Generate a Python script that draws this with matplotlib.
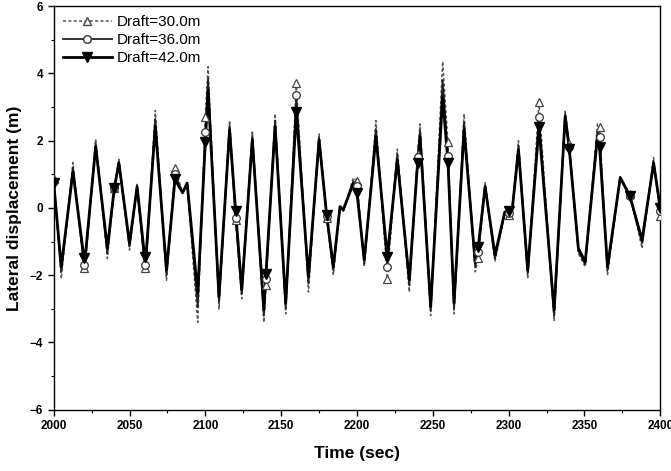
import numpy as np
import matplotlib.pyplot as plt
from matplotlib.lines import Line2D

plt.rcParams['font.family'] = ['Liberation Sans', 'DejaVu Sans']

# times of peaks / troughs
t_ext = [2005, 2012.7, 2020.5, 2027.7, 2035.4, 2043, 2050, 2055, 2060.7, 2067, 2074.4,
         2085, 2088, 2095, 2101.8, 2109, 2116, 2124, 2131, 2138.6, 2146, 2153,
         2168, 2175, 2184.4, 2188.8, 2191, 2197.6, 2204.8, 2212.5, 2226.6, 2234.5,
         2241.6, 2248.6, 2256.5, 2264, 2270.6, 2278, 2284.5, 2291, 2297.5, 2302.5,
         2306.5, 2312.6, 2330, 2337.3, 2346, 2350.5, 2358.6, 2365.2, 2373.6, 2388, 2395.6]
y30_ext = [-2.1, 1.35, -1.9, 2.05, -1.5, 1.45, -1.25, 0.7, -1.9, 2.9, -2.15,
           0.45, 0.75, -3.4, 4.2, -3.0, 2.6, -2.7, 2.3, -3.4, 2.8, -3.15,
           -2.5, 2.2, -2.0, 0.0, -0.1, 0.9, -1.75, 2.6, 1.75, -2.5,
           2.5, -3.2, 4.35, -3.15, 2.8, -1.9, 0.75, -1.6, -0.15, 0.0,
           2.0, -2.1, -3.35, 2.87, -1.35, -1.75, 2.5, -2.0, 0.95, -1.2, 1.5]
y36_ext = [-1.9, 1.2, -1.75, 1.92, -1.35, 1.38, -1.15, 0.66, -1.7, 2.65, -2.0,
           0.45, 0.74, -2.95, 3.85, -2.8, 2.45, -2.55, 2.15, -3.2, 2.6, -2.98,
           -2.25, 2.1, -1.85, 0.02, -0.08, 0.8, -1.65, 2.35, 1.6, -2.3,
           2.3, -3.05, 3.8, -2.98, 2.55, -1.75, 0.68, -1.5, -0.13, 0.0,
           1.85, -1.95, -3.2, 2.8, -1.28, -1.68, 2.3, -1.85, 0.92, -1.05, 1.4]
y42_ext = [-1.75, 1.08, -1.6, 1.82, -1.2, 1.33, -1.05, 0.63, -1.55, 2.42, -1.85,
           0.45, 0.74, -2.53, 3.5, -2.64, 2.32, -2.44, 2.02, -3.04, 2.42, -2.83,
           -2.04, 2.02, -1.75, 0.04, -0.05, 0.73, -1.55, 2.12, 1.43, -2.14,
           2.12, -2.94, 3.31, -2.83, 2.32, -1.64, 0.63, -1.4, -0.12, 0.0,
           1.73, -1.85, -3.04, 2.72, -1.2, -1.6, 2.12, -1.75, 0.9, -0.95, 1.33]

# marker positions every 20 s
t_mark = list(range(2000, 2401, 20))
y30_mark = [0.85, -1.8, 0.6, -1.8, 1.2, 2.7, -0.35, -2.3, 3.7, -0.3, 0.8,
            -2.1, 1.6, 1.95, -1.5, -0.2, 3.15, 1.9, 2.4, 0.4, -0.25]
y36_mark = [0.8, -1.7, 0.6, -1.7, 1.0, 2.25, -0.3, -2.1, 3.35, -0.25, 0.65,
            -1.75, 1.5, 1.55, -1.3, -0.15, 2.7, 1.8, 2.1, 0.35, -0.1]
y42_mark = [0.75, -1.5, 0.6, -1.45, 0.85, 1.95, -0.1, -1.95, 2.85, -0.2, 0.45,
            -1.45, 1.35, 1.35, -1.15, -0.1, 2.4, 1.75, 1.8, 0.35, 0.0]


def merge(ye, ym):
    t = np.array(t_ext + t_mark, dtype=float)
    y = np.array(ye + ym, dtype=float)
    o = np.argsort(t)
    return t[o], y[o]


fig = plt.figure(figsize=(6.71, 4.71), dpi=100)
ax = fig.add_axes([0.080, 0.130, 0.904, 0.857])

t, y = merge(y30_ext, y30_mark)
ax.plot(t, y, color='#555555', ls=(0, (2, 1.5)), lw=1.1, zorder=2)
ax.plot(t_mark, y30_mark, ls='none', marker='^', ms=6, mfc='white', mec='#444444', mew=0.9, zorder=4)

t, y = merge(y36_ext, y36_mark)
ax.plot(t, y, color='#222222', lw=1.3, zorder=3)
ax.plot(t_mark, y36_mark, ls='none', marker='o', ms=5.5, mfc='white', mec='#333333', mew=0.9, zorder=4)

t, y = merge(y42_ext, y42_mark)
ax.plot(t, y, color='black', lw=2.0, zorder=3)
ax.plot(t_mark, y42_mark, ls='none', marker='v', ms=6.5, color='black', zorder=5)

ax.set_xlim(2000, 2400)
ax.set_ylim(-6, 6)
ax.set_xticks(np.arange(2000, 2401, 50))
ax.set_xticks(np.arange(2025, 2400, 50), minor=True)
ax.set_yticks(np.arange(-6, 7, 2))
ax.set_yticks(np.arange(-5, 6, 2), minor=True)
ax.tick_params(which='major', direction='out', length=4, width=1, labelsize=8.5)
ax.tick_params(which='minor', direction='out', length=2.5, width=0.8)
for lab in ax.get_xticklabels() + ax.get_yticklabels():
    lab.set_fontweight('bold')
for s in ax.spines.values():
    s.set_linewidth(1.0)

ax.set_xlabel('Time (sec)', fontsize=12.5, fontweight='bold', labelpad=10)
ax.set_ylabel('Lateral displacement (m)', fontsize=12.5, fontweight='bold', labelpad=6)

handles = [
    Line2D([], [], color='#555555', ls=(0, (2, 1.5)), lw=1.1, marker='^', ms=6,
           mfc='white', mec='#444444'),
    Line2D([], [], color='#222222', lw=1.3, marker='o', ms=5.5, mfc='white', mec='#333333'),
    Line2D([], [], color='black', lw=2.0, marker='v', ms=6.5),
]
ax.legend(handles, ['Draft=30.0m', 'Draft=36.0m', 'Draft=42.0m'], loc='upper left',
          frameon=False, fontsize=11, handlelength=3.2, handletextpad=0.3,
          borderaxespad=0.2, labelspacing=0.25)

fig.savefig('out.png', dpi=100)
